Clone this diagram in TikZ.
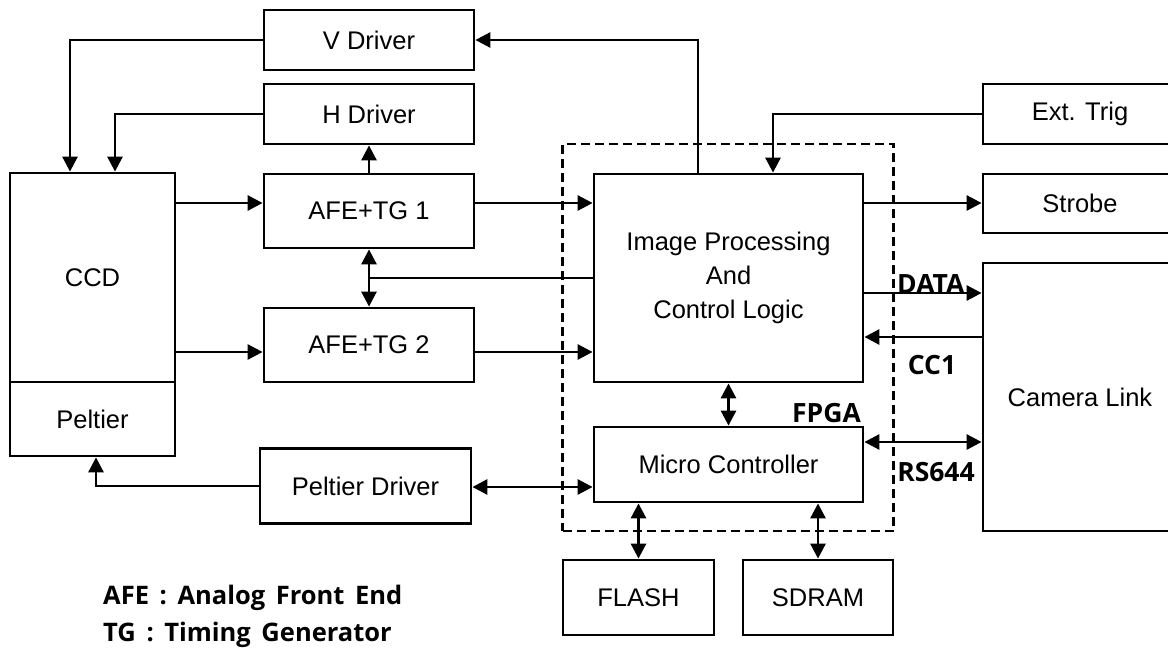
\documentclass[tikz,border=0pt]{standalone}
\usepackage{fontspec}
\setmainfont{Liberation Sans}
\newfontfamily\lblfont{Open Sans}[WordSpace={1.6}]
\usetikzlibrary{arrows.meta}
\tikzset{
  box/.style={draw, line width=2.8pt, inner sep=0pt, font=\fontsize{25.5}{34}\selectfont, align=center},
  wire/.style={line width=2.8pt},
  arr/.style={wire, -{Triangle[length=15pt,width=15pt]}},
  biarr/.style={wire, {Triangle[length=15pt,width=15pt]}-{Triangle[length=15pt,width=15pt]}},
  lbl/.style={font=\lblfont\fontsize{26.5}{30}\selectfont\bfseries, inner sep=0pt},
  legend/.style={font=\lblfont\fontsize{25.5}{30}\selectfont\bfseries, inner sep=0pt, anchor=west},
  fpgabox/.style={draw, line width=2.2pt, dash pattern=on 9pt off 5pt, inner sep=0pt}
}
\begin{document}
\begin{tikzpicture}[x=1pt,y=-1pt]
\path[use as bounding box] (0,0) rectangle (1168,650);
\clip (0,0) rectangle (1168,650);
\fill[white] (0,0) rectangle (1168,650);
% dashed FPGA region
\node[fpgabox, minimum width=331pt, minimum height=387pt] (fpga) at (728,337.5) {};
% boxes
\node[box, minimum width=210pt, minimum height=60pt] (vdrv) at (369,40) {V Driver};
\node[box, minimum width=210pt, minimum height=60pt] (hdrv) at (369,114) {H Driver};
\node[box, minimum width=210pt, minimum height=74pt] (afe1) at (369,211) {AFE+TG 1};
\node[box, minimum width=210pt, minimum height=74pt] (afe2) at (369,345) {AFE+TG 2};
\node[box, minimum width=165pt, minimum height=209pt] (ccd) at (92.5,277.5) {CCD};
\node[box, minimum width=165pt, minimum height=74pt] (peltier) at (92.5,419) {Peltier};
\node[box, minimum width=211pt, minimum height=75pt] (pdrv) at (365.5,486) {Peltier Driver};
\node[box, minimum width=269pt, minimum height=208pt] (ip) at (728.5,278) {Image Processing\\And\\Control Logic};
\node[box, minimum width=269pt, minimum height=75pt] (mc) at (728.5,464.5) {Micro Controller};
\node[box, minimum width=151pt, minimum height=75pt] (flash) at (638.5,597.5) {FLASH};
\node[box, minimum width=150pt, minimum height=75pt] (sdram) at (818,597.5) {SDRAM};
\node[box, minimum width=194pt, minimum height=60pt] (ext) at (1080,114) {Ext. Trig};
\node[box, minimum width=194pt, minimum height=59pt] (strobe) at (1080,203.5) {Strobe};
\node[box, minimum width=194pt, minimum height=268pt] (cam) at (1080,397) {Camera Link};
% helper coordinates
\coordinate (xv) at (70,0);
\coordinate (xh) at (115,0);
\coordinate (xp) at (96,0);
\coordinate (xvd) at (698,0);
\coordinate (xet) at (773,0);
\coordinate (ya) at (0,203);
\coordinate (yb) at (0,352);
\coordinate (yc) at (0,278);
\coordinate (yd) at (0,293);
\coordinate (ye) at (0,337);
\coordinate (yf) at (0,442);
\coordinate (yg) at (0,487);
% connectors
\draw[arr] (vdrv.west) -| (ccd.north -| xv);
\draw[arr] (hdrv.west) -| (ccd.north -| xh);
\draw[arr] (afe1.north) -- (hdrv.south);
\draw[arr] (ccd.east |- ya) -- (afe1.west |- ya);
\draw[arr] (afe1.east |- ya) -- (ip.west |- ya);
\draw[arr] (ccd.east |- yb) -- (afe2.west |- yb);
\draw[arr] (afe2.east |- yb) -- (ip.west |- yb);
\draw[biarr] (afe1.south) -- (afe2.north);
\draw[wire] (afe1.south |- yc) -- (ip.west |- yc);
\draw[arr] (ip.north -| xvd) |- (vdrv.east);
\draw[arr] (ext.west) -| (ip.north -| xet);
\draw[arr] (ip.east |- ya) -- (strobe.west |- ya);
\draw[arr] (ip.east |- yd) -- (cam.west |- yd);
\draw[arr] (cam.west |- ye) -- (ip.east |- ye);
\draw[biarr] (ip.south) -- (mc.north);
\draw[biarr] (mc.east |- yf) -- (cam.west |- yf);
\draw[biarr] (pdrv.east |- yg) -- (mc.west |- yg);
\draw[arr] (pdrv.west) -| (peltier.south -| xp);
\draw[biarr] (mc.south -| flash.north) -- (flash.north);
\draw[biarr] (mc.south -| sdram.north) -- (sdram.north);
% labels
\node[lbl, anchor=south west] (ldata) at (897,294) {DATA};
\node[lbl] (lcc1) at (932,365) {CC1};
\node[lbl, anchor=east] (lfpga) at (861,413) {FPGA};
\node[lbl] (lrs) at (936,472) {RS644};
\node[legend] (leg1) at (103,598) {AFE : Analog Front End};
\node[legend] (leg2) at (103,635) {TG : Timing Generator};
\end{tikzpicture}
\end{document}
